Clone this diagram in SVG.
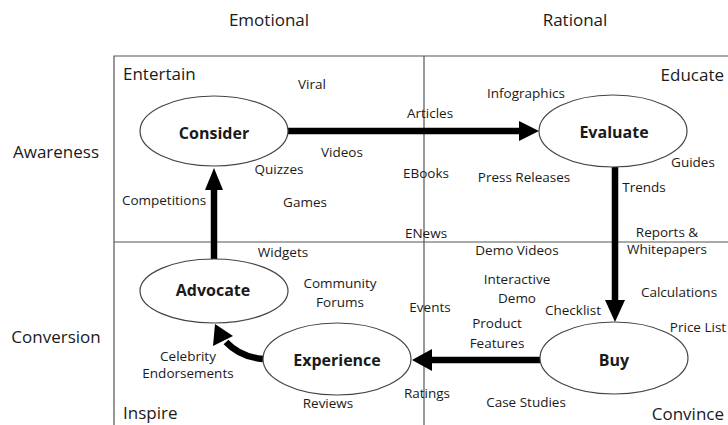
<svg xmlns="http://www.w3.org/2000/svg" width="728" height="425" viewBox="0 0 728 425">
<style>
text{font-family:"Open Sans","Noto Sans",sans-serif;fill:#1a1a1a}
.h{font-size:17px}
.s{font-size:13.5px;text-anchor:middle}
.n{font-size:16px;font-weight:bold;text-anchor:middle}
.f{stroke:#555;stroke-width:1.2;fill:none}
ellipse{fill:#fff;stroke:#444;stroke-width:1.2}
.a{stroke:#000;stroke-width:6.5;fill:none}
.hd{fill:#000}
</style>
<rect width="728" height="425" fill="#fff"/>
<g id="frame">
<path class="f" d="M114,425V56H728M424,56V425M114,242H728"/>
</g>
<g id="axis-labels">
<text class="h" x="269" y="26" text-anchor="middle">Emotional</text>
<text class="h" x="575" y="26" text-anchor="middle">Rational</text>
<text class="h" x="56" y="158" text-anchor="middle">Awareness</text>
<text class="h" x="56" y="343" text-anchor="middle">Conversion</text>
<text class="h" x="123" y="80">Entertain</text>
<text class="h" x="724" y="81" text-anchor="end">Educate</text>
<text class="h" x="123" y="419">Inspire</text>
<text class="h" x="724" y="420" text-anchor="end">Convince</text>
</g>
<g id="connectors">
<path class="a" d="M288,131H521"/>
<polygon class="hd" points="519,121 539,131 519,141"/>
<path class="a" d="M615,167V302"/>
<polygon class="hd" points="605,300 615,322 625,300"/>
<path class="a" d="M540,360H430"/>
<polygon class="hd" points="432,349 412,360 432,371"/>
<path class="a" d="M263,359Q240,357 226,342"/>
<polygon class="hd" points="215,324 213,346 233,336"/>
<path class="a" d="M214,260V188"/>
<polygon class="hd" points="205,190 214,168 223,190"/>
</g>
<g id="consider"><ellipse cx="214" cy="131" rx="74" ry="35"/><text class="n" x="214" y="139">Consider</text></g>
<g id="evaluate"><ellipse cx="613" cy="131" rx="74" ry="36"/><text class="n" x="614" y="138">Evaluate</text></g>
<g id="advocate"><ellipse cx="214" cy="291" rx="74" ry="32"/><text class="n" x="213" y="296">Advocate</text></g>
<g id="experience"><ellipse cx="337" cy="359" rx="74" ry="36"/><text class="n" x="337" y="366">Experience</text></g>
<g id="buy"><ellipse cx="614" cy="358" rx="74" ry="36"/><text class="n" x="614" y="366">Buy</text></g>
<g id="labels">
<text class="s" x="312" y="89">Viral</text>
<text class="s" x="342" y="157">Videos</text>
<text class="s" x="279" y="174">Quizzes</text>
<text class="s" x="164" y="205">Competitions</text>
<text class="s" x="305" y="207">Games</text>
<text class="s" x="430" y="118">Articles</text>
<text class="s" x="426" y="178">EBooks</text>
<text class="s" x="426" y="238">ENews</text>
<text class="s" x="526" y="98">Infographics</text>
<text class="s" x="693" y="167">Guides</text>
<text class="s" x="524" y="182">Press Releases</text>
<text class="s" x="644" y="192">Trends</text>
<text class="s" x="667" y="237">Reports &amp;</text>
<text class="s" x="667" y="254">Whitepapers</text>
<text class="s" x="517" y="255">Demo Videos</text>
<text class="s" x="517" y="284">Interactive</text>
<text class="s" x="517" y="303">Demo</text>
<text class="s" x="573" y="315">Checklist</text>
<text class="s" x="679" y="297">Calculations</text>
<text class="s" x="698" y="332">Price List</text>
<text class="s" x="497" y="328">Product</text>
<text class="s" x="497" y="348">Features</text>
<text class="s" x="430" y="312">Events</text>
<text class="s" x="427" y="398">Ratings</text>
<text class="s" x="526" y="407">Case Studies</text>
<text class="s" x="283" y="257">Widgets</text>
<text class="s" x="340" y="288">Community</text>
<text class="s" x="340" y="307">Forums</text>
<text class="s" x="188" y="361">Celebrity</text>
<text class="s" x="188" y="378">Endorsements</text>
<text class="s" x="328" y="408">Reviews</text>
</g>
</svg>
